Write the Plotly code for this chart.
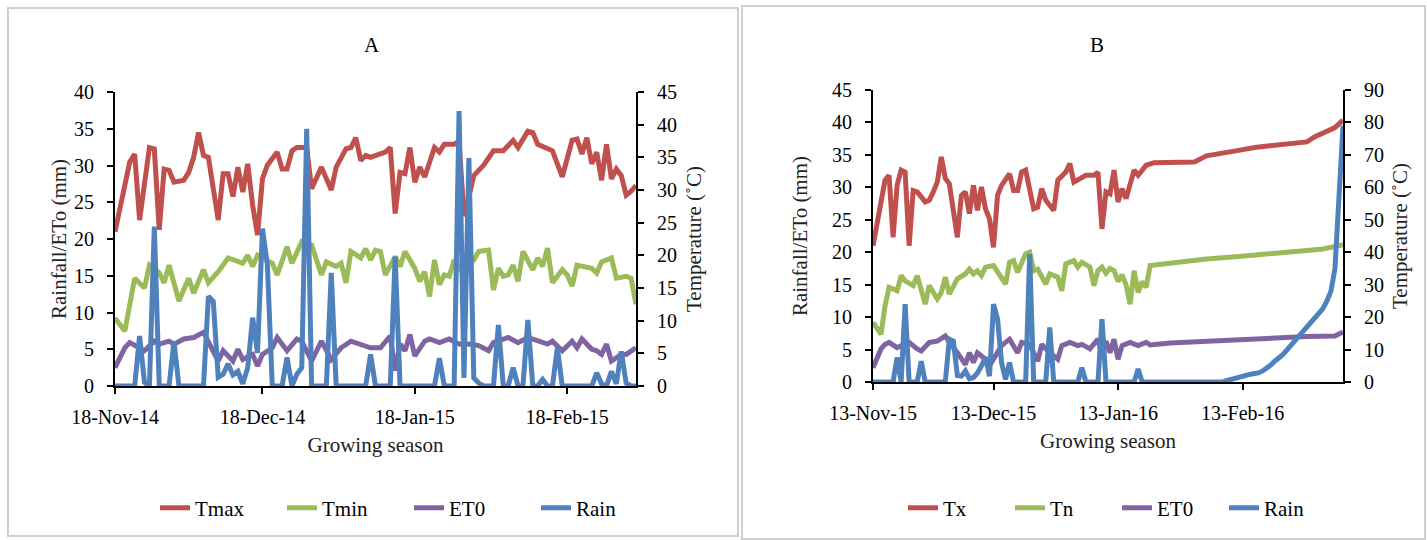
import pandas as pd
import plotly.graph_objects as go

W, H = 1427, 540
FONT = "Liberation Serif"

# ---------------- Season A: 18-Nov-2014 .. 04-Mar-2015 ----------------
start_a = pd.Timestamp("2014-11-18")
end_a = pd.Timestamp("2015-03-04")
ticks_a = ["2014-11-18", "2014-12-18", "2015-01-18", "2015-02-18"]

tmax_days = [0, 2, 3, 4, 5, 7, 8, 9, 10, 11,
             12, 14, 15, 16, 17, 18, 19, 21, 22, 23,
             24, 25, 26, 27, 28, 29, 30, 31, 33, 34,
             35, 36, 37, 39, 40, 42, 44, 45, 47, 48,
             49, 50, 51, 52, 55, 56, 57, 58, 59, 60,
             61, 62, 63, 65, 66, 67, 69, 70, 71, 72,
             73, 75, 77, 79, 81, 82, 84, 85, 86, 89,
             90, 91, 93, 94, 95, 96, 97, 98, 99, 100,
             101, 102, 103, 104, 105, 106]
tmax_vals = [23.6, 30.7, 34.3, 35.5, 25.4, 36.5, 36.3, 23.9, 33.2, 33.0,
             31.2, 31.5, 32.7, 35.0, 38.8, 35.3, 35.0, 25.4, 32.5, 32.5,
             29.0, 33.5, 29.7, 34.0, 27.7, 23.1, 31.7, 33.8, 35.8, 33.2,
             33.2, 36.0, 36.5, 36.5, 30.2, 33.5, 30.0, 33.5, 36.3, 36.5,
             38.0, 34.5, 35.3, 35.0, 35.8, 36.5, 26.4, 32.7, 32.5, 36.5,
             31.2, 33.5, 32.0, 36.5, 35.8, 37.0, 37.0, 37.5, 26.0, 29.0,
             32.2, 33.8, 36.0, 36.0, 37.6, 36.5, 39.0, 38.8, 37.0, 36.0,
             33.8, 32.0, 37.6, 37.8, 35.5, 38.0, 34.0, 35.8, 31.5, 37.0,
             31.7, 33.2, 32.2, 29.2, 29.8, 30.7]

tmin_days = [0, 2, 4, 6, 7, 9, 10, 11, 13, 15,
             16, 18, 19, 21, 23, 25, 26, 27, 28, 29,
             30, 32, 33, 35, 36, 38, 40, 42, 43, 45,
             46, 47, 48, 50, 51, 52, 53, 54, 55, 57,
             58, 59, 61, 62, 63, 64, 65, 66, 67, 68,
             69, 70, 71, 72, 73, 74, 76, 77, 78, 79,
             80, 81, 82, 83, 85, 86, 87, 88, 89, 91,
             92, 93, 94, 97, 98, 99, 101, 102, 104, 105,
             106]
tmin_vals = [10.4, 8.4, 16.5, 15.0, 18.5, 17.3, 15.8, 18.5, 13.0, 16.5,
             14.2, 17.8, 15.8, 17.5, 19.6, 19.0, 18.8, 20.0, 18.3, 20.0,
             19.6, 18.8, 17.0, 21.3, 18.8, 22.1, 21.6, 17.0, 19.0, 18.3,
             18.8, 15.8, 20.6, 19.6, 21.0, 19.3, 20.8, 20.6, 17.0, 19.8,
             18.3, 20.6, 18.0, 16.0, 17.5, 13.7, 19.3, 15.5, 17.0, 16.8,
             19.3, 18.0, 17.0, 18.5, 19.3, 20.6, 20.8, 14.7, 18.0, 16.8,
             17.0, 18.5, 16.0, 20.6, 17.8, 19.6, 18.3, 21.1, 15.8, 17.8,
             17.0, 15.3, 18.5, 18.0, 17.3, 19.0, 19.6, 16.5, 16.8, 16.5,
             12.5]

eto_a_days = [0, 2, 3, 5, 6, 8, 9, 11, 12, 14,
              16, 18, 19, 21, 22, 24, 25, 26, 28, 29,
              30, 32, 33, 35, 37, 38, 40, 42, 44, 46,
              48, 50, 52, 54, 56, 57, 58, 59, 60, 61,
              63, 64, 66, 68, 70, 72, 74, 76, 77, 80,
              82, 84, 86, 88, 89, 91, 93, 94, 95, 97,
              98, 99, 100, 101, 103, 104, 106]
eto_a_vals = [2.5, 5.2, 5.9, 5.2, 4.8, 6.1, 5.7, 6.1, 5.7, 6.4,
              6.6, 7.3, 6.1, 3.4, 4.8, 3.4, 5.0, 3.6, 4.3, 2.7,
              4.3, 5.2, 6.6, 4.8, 6.4, 6.1, 3.4, 6.1, 3.6, 5.2,
              6.1, 5.7, 5.2, 5.2, 6.8, 2.1, 5.7, 4.8, 7.0, 4.1,
              6.1, 6.4, 5.9, 6.4, 5.7, 5.7, 5.5, 4.8, 5.9, 6.6,
              5.9, 6.6, 6.1, 5.7, 6.1, 4.8, 6.1, 5.2, 6.4, 5.0,
              4.8, 4.3, 5.7, 3.4, 4.3, 4.3, 5.2]

# daily rainfall, one value per day from 18-Nov-2014
rain_a = [0, 0, 0, 0, 0, 6.8, 0.5, 0, 21.7, 0,
          0, 0, 6.1, 0, 0, 0, 0, 0, 0, 12.2,
          11.5, 1.2, 1.6, 3.0, 1.5, 2.0, 0.3, 2.5, 9.3, 4.5,
          21.4, 16.5, 0, 0, 0, 3.9, 0, 1.6, 2.5, 35.0,
          0, 0, 0, 0, 15.4, 0, 0, 0, 0, 0,
          0, 0, 4.3, 0, 0, 0, 0, 17.6, 0, 0,
          0, 0, 0, 0, 0, 0, 3.8, 0, 0, 0,
          37.4, 1.1, 31.0, 1.1, 0.4, 0, 0, 0, 8.3, 0,
          0, 2.5, 0, 0, 9.0, 0, 0, 0.9, 0, 0,
          5.2, 0, 0, 0, 0, 0, 0, 0, 1.8, 0.3,
          0, 2.0, 0.3, 4.7, 0.4, 0, 0]

# ---------------- Season B: 13-Nov-2015 .. 09-Mar-2016 ----------------
start_b = pd.Timestamp("2015-11-13")
end_b = pd.Timestamp("2016-03-09")
ticks_b = ["2015-11-13", "2015-12-13", "2016-01-13", "2016-02-13"]

tx_days = [0, 2, 3, 4, 5, 6, 7, 8, 9, 10,
           11, 13, 14, 15, 16, 17, 18, 19, 21, 22,
           23, 24, 25, 26, 27, 28, 29, 30, 31, 32,
           34, 35, 36, 37, 38, 40, 41, 42, 43, 45,
           46, 48, 49, 50, 51, 53, 55, 56, 57, 58,
           59, 60, 61, 62, 63, 65, 66, 68, 70, 74,
           80, 83, 87, 91, 95, 99, 103, 108, 110, 112,
           115, 117]
tx_vals = [42.0, 56.5, 62.2, 63.7, 44.6, 60.6, 65.3, 64.7, 42.0, 59.0,
           58.6, 55.5, 56.0, 58.6, 61.6, 69.4, 62.7, 61.1, 44.6, 57.5,
           58.6, 51.9, 60.6, 52.9, 60.1, 53.4, 50.3, 41.5, 57.5, 60.6,
           64.2, 59.0, 59.0, 64.7, 65.3, 53.4, 53.9, 59.6, 56.0, 52.9,
           62.2, 64.7, 67.3, 61.6, 62.2, 63.7, 63.7, 64.7, 47.2, 58.6,
           58.0, 65.3, 55.5, 59.6, 56.5, 65.3, 63.7, 66.8, 67.6, 67.8,
           67.8, 69.7, 70.4, 71.4, 72.3, 72.8, 73.3, 74.0, 75.6, 76.6,
           78.4, 80.7]

tn_days = [0, 2, 3, 4, 6, 7, 8, 10, 11, 13,
           14, 16, 17, 18, 19, 21, 23, 24, 25, 26,
           27, 28, 30, 31, 33, 34, 35, 36, 38, 39,
           40, 41, 43, 44, 46, 47, 48, 50, 51, 52,
           54, 55, 56, 57, 58, 59, 60, 61, 62, 63,
           64, 65, 66, 67, 68, 69, 75, 83, 91, 100,
           108, 112, 115, 117]
tn_vals = [18.4, 14.7, 23.5, 29.2, 28.1, 32.8, 31.2, 29.7, 32.8, 24.0,
           29.7, 25.6, 27.6, 32.3, 27.1, 31.8, 33.3, 34.8, 33.3, 34.3,
           32.8, 35.4, 35.9, 33.8, 30.2, 36.9, 37.4, 33.8, 39.5, 40.0,
           34.3, 34.8, 30.2, 33.3, 32.3, 28.1, 36.4, 37.4, 35.4, 36.9,
           35.4, 29.7, 34.3, 35.4, 33.5, 35.0, 34.3, 31.0, 33.0, 30.0,
           24.0, 34.3, 27.6, 30.9, 29.2, 35.9, 36.9, 37.9, 38.7, 39.5,
           40.5, 41.0, 42.0, 42.3]

eto_b_days = [0, 2, 3, 4, 6, 7, 9, 11, 12, 14,
              16, 18, 19, 21, 23, 24, 25, 26, 28, 29,
              31, 32, 34, 36, 37, 39, 41, 42, 44, 46,
              47, 49, 51, 52, 54, 56, 57, 58, 59, 60,
              61, 62, 64, 66, 68, 69, 74, 83, 91, 100,
              108, 115, 117]
eto_b_vals = [2.2, 5.1, 5.8, 6.1, 5.3, 5.6, 6.1, 5.1, 4.8, 6.1,
              6.3, 7.1, 6.1, 4.5, 2.7, 4.5, 3.0, 4.5, 3.5, 2.5,
              4.5, 5.6, 6.6, 4.5, 6.1, 5.8, 3.2, 5.8, 4.5, 3.5,
              5.6, 6.1, 5.6, 5.8, 5.1, 6.6, 4.0, 6.3, 4.5, 6.6,
              3.5, 5.6, 6.1, 5.6, 6.1, 5.7, 6.0, 6.3, 6.6, 6.9,
              7.0, 7.1, 7.7]

# daily rainfall, one value per day from 13-Nov-2015
rain_b = [0, 0, 0, 0, 0, 0, 3.8, 0, 12.0, 0,
          0, 0, 3.2, 0, 0, 0, 0, 0, 0, 6.6,
          6.3, 1.0, 0.9, 1.7, 0.5, 0.7, 1.4, 2.5, 3.8, 0.9,
          12.0, 9.7, 3.0, 0.4, 3.0, 0, 0, 0, 0, 19.7,
          0, 0, 0, 0, 8.4, 0, 0, 0, 0, 0,
          0, 0, 2.2, 0, 0, 0, 0, 9.7, 0, 0,
          0, 0, 0, 0, 0, 0, 2.0, 0, 0, 0,
          0, 0, 0, 0, 0, 0, 0, 0, 0, 0,
          0, 0, 0, 0, 0, 0, 0, 0, 0.2, 0.4,
          0.5, 0.6, 0.8, 1.0, 1.2, 1.3, 1.4, 1.7, 2.1, 2.6,
          3.2, 3.6, 4.2, 4.9, 5.6, 6.3, 7.0, 7.8, 8.5, 9.2,
          9.8, 10.4, 11.3, 12.5, 14.0, 17.5, 30.0, 39.5]

assert len(tmax_days) == len(tmax_vals)
assert len(tmin_days) == len(tmin_vals)
assert len(eto_a_days) == len(eto_a_vals)
assert len(tx_days) == len(tx_vals)
assert len(tn_days) == len(tn_vals)
assert len(eto_b_days) == len(eto_b_vals)
assert len(rain_a) == 107 and len(rain_b) == 118

RED, GREEN, PURPLE, BLUE = "#C0504D", "#9BBB59", "#8064A2", "#4F81BD"
LW = 5


def dates(start, offsets):
    return [(start + pd.Timedelta(days=int(d))).strftime("%Y-%m-%d") for d in offsets]


def px(x):
    return x / W


def py(y):
    return 1 - y / H


fig = go.Figure()

series_a = [
    ("Tmax", dates(start_a, tmax_days), tmax_vals, RED, "y"),
    ("Tmin", dates(start_a, tmin_days), tmin_vals, GREEN, "y"),
    ("ET0", dates(start_a, eto_a_days), eto_a_vals, PURPLE, "y2"),
    ("Rain", dates(start_a, range(len(rain_a))), rain_a, BLUE, "y2"),
]
for name, xs, ys, col, ya in series_a:
    fig.add_trace(go.Scatter(x=xs, y=ys, name=name, mode="lines", xaxis="x", yaxis=ya,
                             line=dict(color=col, width=LW), legend="legend",
                             hoverinfo="skip"))

series_b = [
    ("Tx", dates(start_b, tx_days), tx_vals, RED, "y3"),
    ("Tn", dates(start_b, tn_days), tn_vals, GREEN, "y3"),
    ("ET0", dates(start_b, eto_b_days), eto_b_vals, PURPLE, "y4"),
    ("Rain", dates(start_b, range(len(rain_b))), rain_b, BLUE, "y4"),
]
for name, xs, ys, col, ya in series_b:
    fig.add_trace(go.Scatter(x=xs, y=ys, name=name, mode="lines", xaxis="x2", yaxis=ya,
                             line=dict(color=col, width=LW), legend="legend2",
                             hoverinfo="skip"))

tick_font = dict(family=FONT, size=20, color="black")
title_font = dict(family=FONT, size=21, color="#222222")
axis_style = dict(showline=True, linecolor="black", linewidth=2, ticks="outside",
                  ticklen=6, tickwidth=2, tickcolor="black", showgrid=False,
                  zeroline=False, tickfont=tick_font, fixedrange=True,
                  layer="below traces")
x_style = dict(axis_style, ticklabelstandoff=6)
y_style = dict(axis_style, ticklabelstandoff=9)

dom_a_x = [px(115), px(636)]
dom_a_y = [py(386), py(92)]
dom_b_x = [px(873), px(1343)]
dom_b_y = [py(382), py(90)]

fig.update_layout(
    width=W, height=H,
    margin=dict(l=0, r=0, t=0, b=0, autoexpand=False),
    paper_bgcolor="white", plot_bgcolor="white",
    xaxis=dict(domain=dom_a_x, anchor="y", type="date",
               range=[start_a, end_a], tickvals=ticks_a, tickformat="%d-%b-%y",
               title=dict(text="Growing season", font=title_font, standoff=10),
               **x_style),
    yaxis=dict(domain=dom_a_y, anchor="x", side="right", range=[0, 45], dtick=5,
               title=dict(text="Temperature (˚C)", font=title_font, standoff=10),
               **y_style),
    yaxis2=dict(overlaying="y", anchor="x", side="left", range=[0, 40], dtick=5,
                title=dict(text="Rainfall/ETo (mm)", font=title_font, standoff=2),
                **y_style),
    xaxis2=dict(domain=dom_b_x, anchor="y3", type="date",
                range=[start_b, end_b], tickvals=ticks_b, tickformat="%d-%b-%y",
                title=dict(text="Growing season", font=title_font, standoff=10),
                **x_style),
    yaxis3=dict(domain=dom_b_y, anchor="x2", side="right", range=[0, 90], dtick=10,
                title=dict(text="Temperature (˚C)", font=title_font, standoff=9),
                **y_style),
    yaxis4=dict(overlaying="y3", anchor="x2", side="left", range=[0, 45], dtick=5,
                title=dict(text="Rainfall/ETo (mm)", font=title_font, standoff=19),
                **y_style),
    legend=dict(orientation="h", x=px(155), xanchor="left", y=py(508), yanchor="middle",
                entrywidth=82, entrywidthmode="pixels", traceorder="normal",
                font=dict(family=FONT, size=21, color="black"),
                bgcolor="rgba(0,0,0,0)"),
    legend2=dict(orientation="h", x=px(903), xanchor="left", y=py(508), yanchor="middle",
                 entrywidth=62, entrywidthmode="pixels", traceorder="normal",
                 font=dict(family=FONT, size=21, color="black"),
                 bgcolor="rgba(0,0,0,0)"),
    showlegend=True,
)

# panel frames
for x0, y0, x1, y1 in [(8, 8, 738, 536), (742, 6, 1425, 539)]:
    fig.add_shape(type="rect", xref="paper", yref="paper",
                  x0=px(x0), x1=px(x1), y0=py(y1), y1=py(y0),
                  line=dict(color="#D0D0D0", width=2), fillcolor="rgba(0,0,0,0)",
                  layer="below")

# panel labels
for label, xc in [("A", 372), ("B", 1097)]:
    fig.add_annotation(text=label, x=px(xc), y=py(45), xref="paper", yref="paper",
                       xanchor="center", yanchor="middle", showarrow=False,
                       font=dict(family=FONT, size=21, color="black"))

fig.write_html("out.html")
